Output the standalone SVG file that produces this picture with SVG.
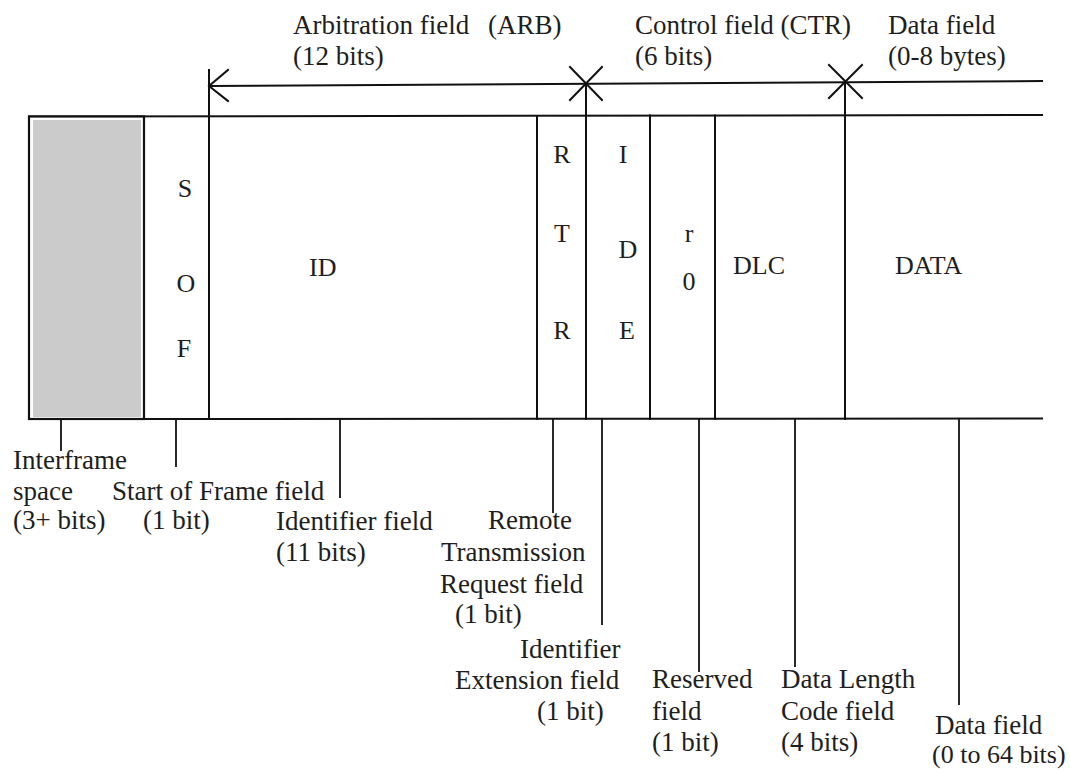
<svg xmlns="http://www.w3.org/2000/svg" width="1070" height="772" viewBox="0 0 1070 772">
<style>
.t{font-family:"Liberation Serif","Times New Roman",serif;font-size:27px;fill:#1e1e1e}
.b{font-family:"Liberation Serif","Times New Roman",serif;font-size:26px;fill:#1e1e1e}
.m{text-anchor:middle}
.ln{stroke:#111;stroke-width:2;fill:none;stroke-linecap:square}
.ld{stroke:#111;stroke-width:1.8;fill:none}
</style>
<rect width="1070" height="772" fill="#fff"/>

<g id="frame">
  <line class="ln" x1="29" y1="116.5" x2="1042" y2="115"/>
  <line class="ln" x1="29" y1="419" x2="1042" y2="418.5"/>
</g>

<g id="interframe">
  <rect x="29" y="116.5" width="115" height="302.5" fill="#fff" stroke="#111" stroke-width="2.2"/>
  <rect x="33" y="120" width="108" height="297" fill="#cbcbcb"/>
</g>

<g id="sof">
  <text class="b m" x="185" y="197">S</text>
  <text class="b m" x="186" y="292">O</text>
  <text class="b m" x="184" y="357">F</text>
</g>

<g id="id-cell">
  <line class="ln" x1="209" y1="70" x2="209" y2="419"/>
  <text class="b" x="309" y="276">ID</text>
</g>

<g id="rtr">
  <line class="ln" x1="537" y1="116" x2="537" y2="419"/>
  <text class="b m" x="562" y="163">R</text>
  <text class="b m" x="562" y="242">T</text>
  <text class="b m" x="562" y="339">R</text>
</g>

<g id="ide">
  <line class="ln" x1="586" y1="84" x2="586" y2="419"/>
  <text class="b m" x="623" y="163">I</text>
  <text class="b m" x="628" y="258">D</text>
  <text class="b m" x="627" y="339">E</text>
</g>

<g id="r0">
  <line class="ln" x1="650" y1="115.5" x2="650" y2="419"/>
  <text class="b m" x="689" y="242">r</text>
  <text class="b m" x="689" y="290">0</text>
</g>

<g id="dlc">
  <line class="ln" x1="715" y1="115.5" x2="715" y2="419"/>
  <text class="b" x="733" y="274">DLC</text>
</g>

<g id="data">
  <line class="ln" x1="845" y1="82" x2="845" y2="419"/>
  <text class="b" x="895" y="274">DATA</text>
</g>

<g id="connectors">
  <line class="ln" x1="209" y1="86" x2="1042" y2="81"/>
  <polyline class="ln" points="228,70 209,86 228,101"/>
  <line class="ln" x1="570" y1="67" x2="602" y2="100"/>
  <line class="ln" x1="570" y1="100" x2="602" y2="67"/>
  <line class="ln" x1="829" y1="65" x2="862" y2="98"/>
  <line class="ln" x1="829" y1="98" x2="862" y2="65"/>
  <line class="ld" x1="61" y1="419" x2="61" y2="451"/>
  <line class="ld" x1="176" y1="419" x2="176" y2="467"/>
  <line class="ld" x1="340" y1="419" x2="340" y2="498"/>
  <line class="ld" x1="553" y1="419" x2="553" y2="513"/>
  <line class="ld" x1="602" y1="419" x2="602" y2="625"/>
  <line class="ld" x1="699" y1="419" x2="699" y2="672"/>
  <line class="ld" x1="795" y1="419" x2="795" y2="667"/>
  <line class="ld" x1="959" y1="419" x2="959" y2="705"/>
</g>

<g id="label-arb">
  <text class="t" x="293" y="34">Arbitration field</text>
  <text class="t" x="488" y="34">(ARB)</text>
  <text class="t" x="293" y="65">(12 bits)</text>
</g>
<g id="label-ctr">
  <text class="t" x="635" y="34">Control field (CTR)</text>
  <text class="t" x="635" y="65">(6 bits)</text>
</g>
<g id="label-datafield-top">
  <text class="t" x="888" y="34">Data field</text>
  <text class="t" x="888" y="65">(0-8 bytes)</text>
</g>

<g id="label-interframe">
  <text class="t" x="13" y="469">Interframe</text>
  <text class="t" x="13" y="500">space</text>
  <text class="t" x="13" y="529">(3+ bits)</text>
</g>
<g id="label-sof">
  <text class="t" x="112" y="500">Start of Frame field</text>
  <text class="t" x="143" y="529">(1 bit)</text>
</g>
<g id="label-id">
  <text class="t" x="276" y="530">Identifier field</text>
  <text class="t" x="276" y="561">(11 bits)</text>
</g>
<g id="label-rtr">
  <text class="t" x="488" y="529">Remote</text>
  <text class="t" x="441" y="561">Transmission</text>
  <text class="t" x="440" y="593">Request field</text>
  <text class="t" x="455" y="623">(1 bit)</text>
</g>
<g id="label-ide">
  <text class="t" x="520" y="658">Identifier</text>
  <text class="t" x="455" y="689">Extension field</text>
  <text class="t" x="537" y="720">(1 bit)</text>
</g>
<g id="label-r0">
  <text class="t" x="652" y="688">Reserved</text>
  <text class="t" x="652" y="720">field</text>
  <text class="t" x="652" y="751">(1 bit)</text>
</g>
<g id="label-dlc">
  <text class="t" x="781" y="688">Data Length</text>
  <text class="t" x="781" y="720">Code field</text>
  <text class="t" x="781" y="751">(4 bits)</text>
</g>
<g id="label-data">
  <text class="t" x="935" y="734">Data field</text>
  <text class="t" x="932" y="763" style="font-size:26px">(0 to 64 bits)</text>
</g>
</svg>
